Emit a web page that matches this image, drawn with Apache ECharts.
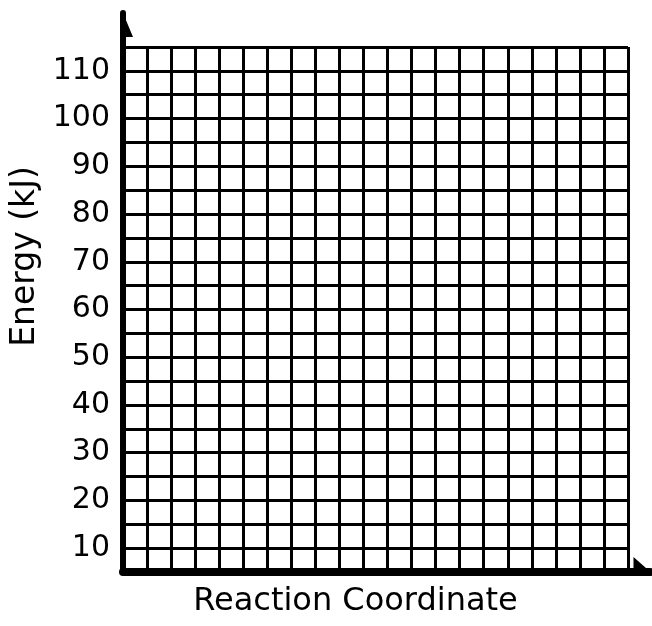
<!DOCTYPE html>
<html>
<head>
<meta charset="utf-8">
<script src="https://cdn.jsdelivr.net/npm/echarts@6/dist/echarts.min.js"></script>
<style>
  html, body { margin: 0; padding: 0; background: #fff; }
  #chart { width: 652px; height: 626px; }
</style>
</head>
<body>
<div id="chart"></div>
<script>
// blank energy diagram worksheet: grid only, no data plotted
var yLabels = [10, 20, 30, 40, 50, 60, 70, 80, 90, 100, 110]
var yMin = 5
var yMax = 115
var yStep = 5
var xCols = 21
var xTitle = 'Reaction Coordinate'
var yTitle = 'Energy (kJ)'

var ink = '#000'
var font = 'DejaVu Sans'
// half arrows: filled triangle on one side of the axis line
// (axis symbols keep aspect, so the path box has the same ratio as symbolSize)
var yArrow = 'path://M10,0 L10,24 L20,24 Z M0,24 L0.01,24'
var xArrow = 'path://M15,0 L15,17 L0,17 Z M30,17 L29.99,17'

var chart = echarts.init(document.getElementById('chart'))
chart.setOption({
  backgroundColor: '#fff',
  animation: false,
  grid: [
    // grid lines
    { left: 123, right: 24, top: 47, bottom: 54 },
    // thick axes with the arrows
    { left: 123, right: 2, top: 13, bottom: 54 }
  ],
  xAxis: [
    {
      type: 'value',
      gridIndex: 0,
      min: 0,
      max: xCols,
      interval: 1,
      axisLine: { show: false },
      axisTick: { show: false },
      axisLabel: { show: false },
      splitLine: { show: true, lineStyle: { color: ink, width: 3 } },
      name: xTitle,
      nameLocation: 'middle',
      nameGap: 14,
      nameTextStyle: {
        color: ink,
        fontFamily: font,
        fontSize: 32,
        padding: [0, 40, 0, 0]
      }
    },
    {
      type: 'value',
      gridIndex: 1,
      min: 0,
      max: 1,
      axisLine: {
        show: true,
        lineStyle: { color: ink, width: 8 },
        symbol: ['none', xArrow],
        symbolSize: [30, 17],
        symbolOffset: [0, -8]
      },
      axisTick: { show: false },
      axisLabel: { show: false },
      splitLine: { show: false }
    }
  ],
  yAxis: [
    {
      type: 'value',
      gridIndex: 0,
      min: yMin,
      max: yMax,
      interval: yStep,
      axisLine: { show: false },
      axisTick: { show: false },
      axisLabel: {
        color: ink,
        fontFamily: font,
        fontSize: 30,
        margin: 13,
        formatter: function (v) {
          return yLabels.indexOf(v) > -1 ? String(v) : ''
        }
      },
      splitLine: { show: true, lineStyle: { color: ink, width: 3 } },
      name: yTitle,
      nameLocation: 'middle',
      nameGap: 80,
      nameTextStyle: {
        color: ink,
        fontFamily: font,
        fontSize: 33,
        padding: [0, 0, 0, 106]
      }
    },
    {
      type: 'value',
      gridIndex: 1,
      min: 0,
      max: 1,
      axisLine: {
        show: true,
        lineStyle: { color: ink, width: 6 },
        symbol: ['none', yArrow],
        symbolSize: [20, 24],
        symbolOffset: [0, -12]
      },
      axisTick: { show: false },
      axisLabel: { show: false },
      splitLine: { show: false }
    }
  ],
  series: [
    { type: 'line', xAxisIndex: 0, yAxisIndex: 0, data: [] }
  ]
})
</script>
</body>
</html>
